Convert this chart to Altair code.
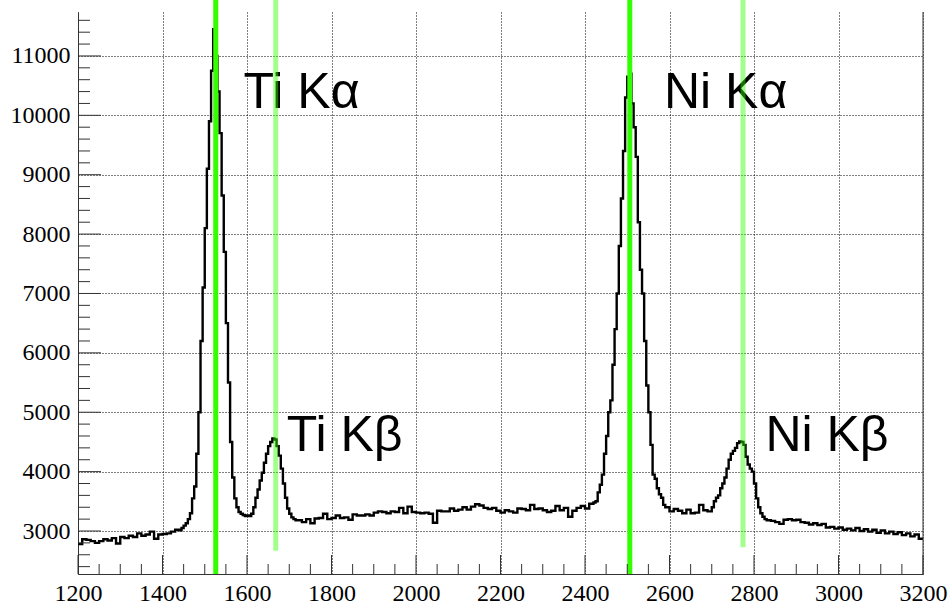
import altair as alt
import pandas as pd

# ---------------- data ----------------
# histogram bin left edges and counts (last bin ends at 3200)
edges = [
    1200, 1210, 1220, 1230, 1240, 1250, 1260, 1270, 1280, 1290,
    1300, 1310, 1320, 1330, 1340, 1350, 1360, 1370, 1380, 1390,
    1400, 1410, 1420, 1430,
    1440, 1445, 1450, 1455, 1460, 1465, 1470, 1475, 1480, 1485,
    1490, 1495, 1500, 1505, 1510, 1515, 1520, 1525, 1530, 1535,
    1540, 1545, 1550, 1555, 1560, 1565, 1570, 1575, 1580, 1585,
    1590, 1595, 1600, 1605, 1610, 1615, 1620, 1625, 1630, 1635,
    1640, 1645, 1650, 1655, 1660, 1665, 1670, 1675, 1680, 1685,
    1690, 1695, 1700, 1705, 1710, 1715,
    1720, 1730, 1740, 1750, 1760, 1770, 1780, 1790, 1800, 1810,
    1820, 1830, 1840, 1850, 1860, 1870, 1880, 1890, 1900, 1910,
    1920, 1930, 1940, 1950, 1960, 1970, 1980, 1990, 2000, 2010,
    2020, 2030, 2040, 2050, 2060, 2070, 2080, 2090, 2100, 2110,
    2120, 2130, 2140, 2150, 2160, 2170, 2180, 2190, 2200, 2210,
    2220, 2230, 2240, 2250, 2260, 2270, 2280, 2290, 2300, 2310,
    2320, 2330, 2340, 2350, 2360, 2370, 2380, 2390, 2400, 2410,
    2420, 2425, 2430, 2435, 2440, 2445, 2450, 2455, 2460, 2465,
    2470, 2475, 2480, 2485, 2490, 2495, 2500, 2505, 2510, 2515,
    2520, 2525, 2530, 2535, 2540, 2545, 2550, 2555, 2560, 2565,
    2570, 2575, 2580, 2585,
    2590, 2600, 2610, 2620, 2630, 2640, 2650, 2660, 2670, 2680, 2690,
    2700, 2705, 2710, 2715, 2720, 2725, 2730, 2735, 2740, 2745,
    2750, 2755, 2760, 2765, 2770, 2775, 2780, 2785, 2790, 2795,
    2800, 2805, 2810, 2815, 2820, 2825,
    2830, 2840, 2850, 2860, 2870, 2880, 2890, 2900, 2910, 2920,
    2930, 2940, 2950, 2960, 2970, 2980, 2990, 3000, 3010, 3020,
    3030, 3040, 3050, 3060, 3070, 3080, 3090, 3100, 3110, 3120,
    3130, 3140, 3150, 3160, 3170, 3180, 3190,
]
counts = [
    2780, 2860, 2850, 2830, 2800, 2830, 2860, 2840, 2880, 2790,
    2900, 2880, 2920, 2900, 2960, 2920, 2940, 2990, 2870, 2940,
    2950, 2960, 2990, 3020,
    3010, 3050, 3090, 3130, 3200, 3300, 3550, 3750, 4300, 5000,
    6200, 7100, 8100, 9100, 9900, 10750, 11450, 11000, 10400, 9700,
    8650, 7700, 6500, 5500, 4500, 3900, 3550, 3400, 3320, 3290,
    3270, 3250, 3260, 3250, 3290, 3400, 3560, 3700, 3850, 3980,
    4150, 4300, 4430, 4500, 4560, 4540, 4430, 4270, 4050, 3800,
    3560, 3380, 3290, 3230, 3200, 3180,
    3180, 3150, 3200, 3130, 3210, 3220, 3290, 3200, 3220, 3260,
    3220, 3230, 3190, 3280, 3260, 3260, 3280, 3260, 3310, 3330,
    3320, 3300, 3330, 3320, 3390, 3300, 3410, 3320, 3310, 3300,
    3310, 3290, 3140, 3340, 3330, 3330, 3380, 3340, 3360, 3400,
    3360, 3410, 3450, 3430, 3390, 3370, 3390, 3340, 3310, 3350,
    3330, 3310, 3380, 3370, 3350, 3440, 3370, 3380, 3350, 3320,
    3340, 3420, 3350, 3390, 3240, 3340, 3390, 3420, 3380, 3460,
    3480, 3500, 3650, 3780, 3950, 4300, 4600, 5000, 5200, 5800,
    6400, 7000, 7800, 8600, 9400, 10300, 10650, 10700, 10200, 9800,
    9300, 8200, 7400, 7000, 6200, 5450, 5000, 4450, 3950, 3880,
    3720, 3620, 3560, 3440,
    3400, 3330, 3370, 3340, 3300, 3360, 3300, 3310, 3440, 3350, 3330,
    3400, 3500, 3560, 3600, 3720, 3800, 3900, 4050, 4200, 4300,
    4350, 4400, 4480, 4510, 4500, 4450, 4250, 4120, 4050, 4000,
    3800, 3550, 3400, 3300, 3240, 3200,
    3180, 3170, 3150, 3120, 3190, 3200, 3180, 3190, 3150, 3140,
    3110, 3130, 3100, 3120, 3060, 3070, 3040, 3060, 3020, 3040,
    3010, 3050, 3000, 3030, 2990, 3020, 2970, 3010, 2960, 2990,
    2950, 2980, 2930, 2960, 2910, 2940, 2870,
]
x_end = 3200

# marker lines (energy positions)
line_x = [1526, 1668, 2506, 2774]
line_bottom = [2276, 2668, 2276, 2726]
line_top = [12000, 12000, 12000, 12000]
line_opacity = [1.0, 0.45, 1.0, 0.45]

# peak labels
label_text = ["Ti K\u03b1", "Ni K\u03b1", "Ti K\u03b2", "Ni K\u03b2"]
label_x = [1592, 2587, 1694, 2827]
label_y = [10130, 10130, 4355, 4355]

# axes
x_domain = [1200, 3200]
y_domain = [2276, 11740]
x_major = list(range(1200, 3201, 200))
x_minor = [v for v in range(1250, 3200, 50) if v % 200 != 0]
y_major = list(range(3000, 11001, 1000))
y_minor = [v for v in range(2400, 11601, 200) if v % 1000 != 0]

# ---------------- chart ----------------
W, H = 845, 562
AX = "#333333"
xs = alt.Scale(domain=x_domain, nice=False, zero=False)
ys = alt.Scale(domain=y_domain, nice=False, zero=False)

axis_common = dict(
    grid=True, gridDash=[1, 2], gridColor="#000000", gridOpacity=1, gridWidth=1,
    ticks=False, domain=True, domainColor=AX, domainWidth=1,
    labelFont="Liberation Serif", labelFontSize=24, labelColor="black",
    title=None, format="d", labelFlush=False, labelOverlap=False,
)
X_AXIS = alt.Axis(values=x_major, labelPadding=7, **axis_common)
Y_AXIS = alt.Axis(values=y_major, labelPadding=8, **axis_common)


def X(field):
    return alt.X(field, scale=xs, axis=X_AXIS, title=None)


def Y(field):
    return alt.Y(field, scale=ys, axis=Y_AXIS, title=None)


hist_df = pd.DataFrame({"x": edges + [x_end], "y": counts + [counts[-1]]})
hist = alt.Chart(hist_df).mark_line(
    interpolate="step-after", color="black", strokeWidth=2.4
).encode(x=X("x:Q"), y=Y("y:Q"))

lbl_df = pd.DataFrame({"t": label_text, "x": label_x, "y": label_y})
labels = alt.Chart(lbl_df).mark_text(
    font="Liberation Sans", fontSize=50, align="left", baseline="alphabetic", color="black"
).encode(x=X("x:Q"), y=Y("y:Q"), text="t:N")

lines_df = pd.DataFrame({"x": line_x, "y": line_bottom, "y2": line_top, "op": line_opacity})
lines = alt.Chart(lines_df).mark_rule(color="#33ff00", strokeWidth=5).encode(
    x=X("x:Q"), y=Y("y:Q"), y2="y2:Q",
    opacity=alt.Opacity("op:Q", scale=None, legend=None),
)


def yticks(vals, length):
    return alt.Chart(pd.DataFrame({"y": vals})).mark_rule(color=AX, strokeWidth=1).encode(
        y=Y("y:Q"), x=alt.value(0), x2=alt.value(length)
    )


def xticks(vals, length):
    return alt.Chart(pd.DataFrame({"x": vals})).mark_rule(color=AX, strokeWidth=1).encode(
        x=X("x:Q"), y=alt.value(H), y2=alt.value(H - length)
    )


frame_right = alt.Chart(pd.DataFrame({"x": [x_domain[1]]})).mark_rule(color=AX, strokeWidth=1).encode(
    x=X("x:Q")
)

chart = alt.layer(
    hist, labels, lines,
    yticks(y_major, 23), yticks(y_minor, 12),
    xticks(x_major, 19), xticks(x_minor, 10),
    frame_right,
).properties(
    width=W, height=H,
    autosize=alt.AutoSizeParams(type="none"),
    padding={"left": 78, "top": 12, "right": 29, "bottom": 30},
).configure_view(stroke=None)

chart.save("out.html", embed_options={"renderer": "svg", "actions": False})
